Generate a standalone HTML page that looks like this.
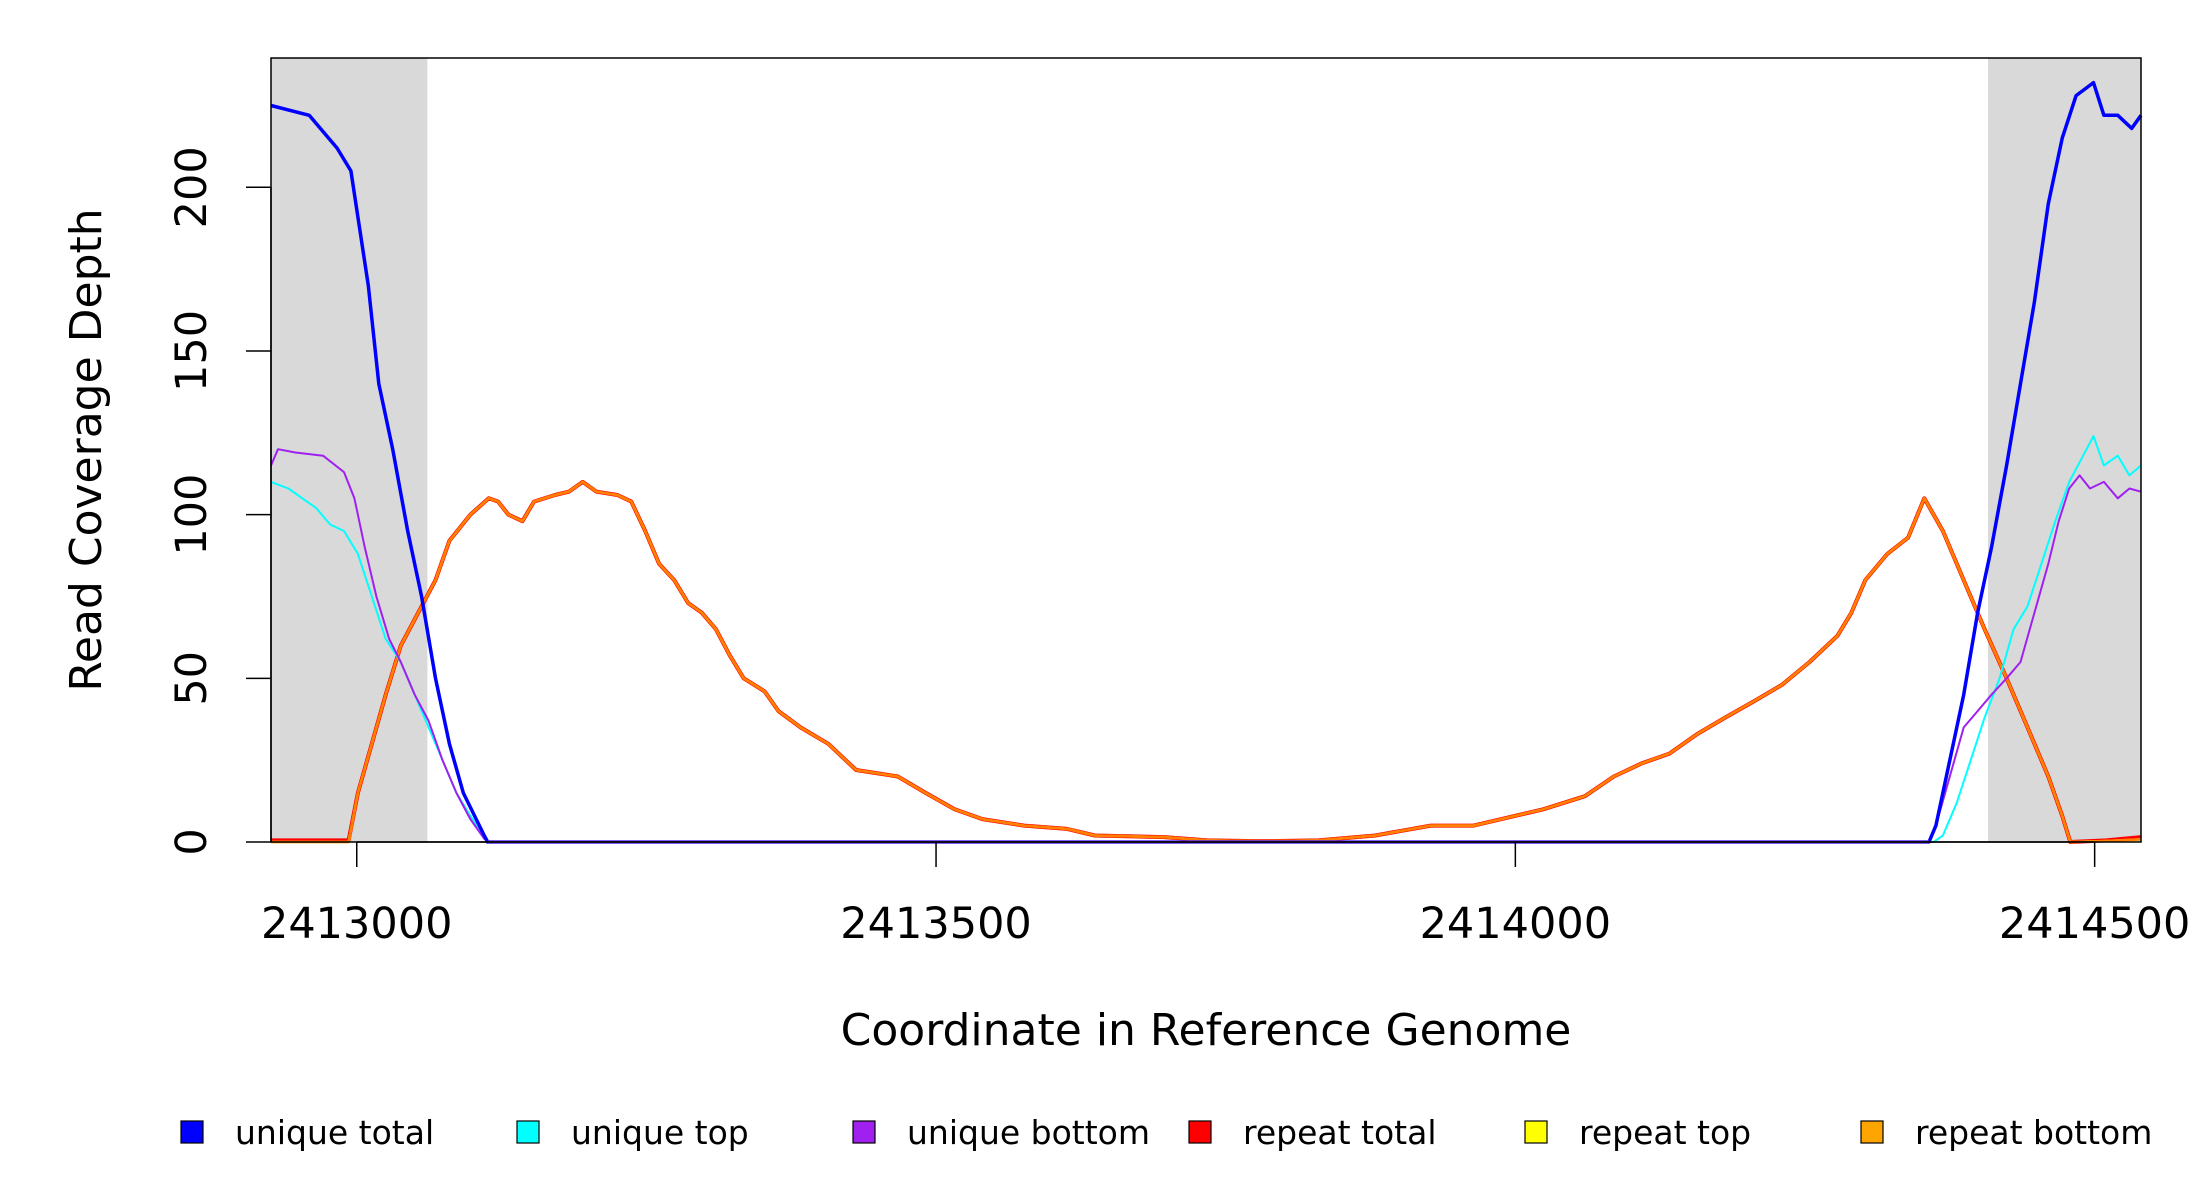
<!DOCTYPE html>
<html><head><meta charset="utf-8">
<style>
html,body{margin:0;padding:0;background:#fff;}
svg{display:block;font-family:"DejaVu Sans","Liberation Sans",sans-serif;}
</style></head>
<body>
<svg id="chart" width="2200" height="1200" viewBox="0 0 2200 1200" xmlns="http://www.w3.org/2000/svg">
<g id="bg"></g>
<g id="series"></g>
<g id="axes"></g>
<g id="legend"></g>
</svg>
<script>
const xTicks = [2413000, 2413500, 2414000, 2414500];
const yTicks = [0, 50, 100, 150, 200];
const shadedRegions = [[2412926, 2413061], [2414408, 2414540]];

const uniqueTotalX = [2412926,2412959,2412983,2412995,2413010,2413019,2413031,2413044,2413056,2413068,2413080,2413092,2413110,2413113,2414357,2414363,2414375,2414387,2414399,2414411,2414424,2414436,2414448,2414460,2414472,2414484,2414499,2414508,2414520,2414532,2414540];
const uniqueTotalY = [225,222,212,205,170,140,120,95,75,50,30,15,2,0,0,5,25,45,70,90,115,140,165,195,215,228,232,222,222,218,222];

const uniqueTopX = [2412926,2412941,2412953,2412965,2412977,2412989,2413001,2413013,2413025,2413038,2413050,2413062,2413074,2413086,2413098,2413110,2413114,2414361,2414369,2414381,2414393,2414405,2414418,2414430,2414442,2414454,2414466,2414478,2414490,2414499,2414508,2414520,2414530,2414540];
const uniqueTopY = [110,108,105,102,97,95,88,75,62,55,45,35,25,15,8,2,0,0,2,12,25,38,50,65,72,85,98,110,118,124,115,118,112,115];

const uniqueBottomX = [2412926,2412932,2412947,2412971,2412989,2412998,2413007,2413017,2413028,2413038,2413050,2413062,2413074,2413086,2413098,2413110,2413114,2414357,2414363,2414375,2414387,2414399,2414411,2414424,2414436,2414448,2414460,2414469,2414478,2414487,2414496,2414508,2414520,2414530,2414540];
const uniqueBottomY = [115,120,119,118,113,105,90,75,62,55,45,37,25,15,7,1,0,0,5,20,35,40,45,50,55,70,85,98,108,112,108,110,105,108,107];

const repeatX = [2412926,2412993,2413001,2413013,2413025,2413038,2413056,2413068,2413080,2413098,2413114,2413122,2413131,2413143,2413153,2413171,2413183,2413195,2413207,2413225,2413237,2413249,2413261,2413274,2413286,2413298,2413310,2413322,2413334,2413352,2413364,2413383,2413407,2413431,2413467,2413491,2413516,2413540,2413576,2413613,2413637,2413697,2413734,2413782,2413830,2413879,2413927,2413964,2414000,2414024,2414060,2414085,2414109,2414133,2414157,2414181,2414206,2414230,2414254,2414278,2414290,2414302,2414321,2414339,2414353,2414369,2414387,2414405,2414424,2414442,2414460,2414472,2414479,2414510,2414540];
const repeatTotalY = [0.5,0.5,15,30,45,60,72,80,92,100,105,104,100,98,104,106,107,110,107,106,104,95,85,80,73,70,65,57,50,46,40,35,30,22,20,15,10,7,5,4,2,1.5,0.5,0.2,0.5,2,5,5,8,10,14,20,24,27,33,38,43,48,55,63,70,80,88,93,105,95,80,65,50,35,20,8,0,0.5,1.5];
const repeatTopY = [0,0,15,30,45,60,72,80,92,100,105,104,100,98,104,106,107,110,107,106,104,95,85,80,73,70,65,57,50,46,40,35,30,22,20,15,10,7,5,4,2,1.5,0.5,0.2,0.5,2,5,5,8,10,14,20,24,27,33,38,43,48,55,63,70,80,88,93,105,95,80,65,50,35,20,8,0,0.3,0.8];
const repeatBottomY = [0,0,15,30,45,60,72,80,92,100,105,104,100,98,104,106,107,110,107,106,104,95,85,80,73,70,65,57,50,46,40,35,30,22,20,15,10,7,5,4,2,1.5,0.5,0.2,0.5,2,5,5,8,10,14,20,24,27,33,38,43,48,55,63,70,80,88,93,105,95,80,65,50,35,20,8,0,0.3,0.8];

const legendLabels = ["unique total","unique top","unique bottom","repeat total","repeat top","repeat bottom"];
const legendColors = ["#0000ff","#00ffff","#a020f0","#ff0000","#ffff00","#ffa500"];

const NS = "http://www.w3.org/2000/svg";
const L = 271, R = 2141, T = 58, B = 842;
const XMIN = 2412926, XMAX = 2414540, YMAX = 239.5;
function sx(v){ return L + (v - XMIN) / (XMAX - XMIN) * (R - L); }
function sy(v){ return B - v / YMAX * (B - T); }
function mk(tag, attrs, parent){
  const e = document.createElementNS(NS, tag);
  for (const k in attrs) e.setAttribute(k, attrs[k]);
  parent.appendChild(e);
  return e;
}
const bg = document.getElementById('bg');
const seriesG = document.getElementById('series');
const axes = document.getElementById('axes');
const legend = document.getElementById('legend');

shadedRegions.forEach((r, i) => {
  const rect = mk('rect', {x: sx(r[0]), y: T, width: sx(r[1]) - sx(r[0]), height: B - T, fill: '#d9d9d9'}, bg);
  
  
});

function drawSeries(xs, ys, color, width, name){
  let d = '';
  for (let i = 0; i < xs.length; i++){
    d += (i ? 'L' : 'M') + sx(xs[i]).toFixed(1) + ' ' + sy(ys[i]).toFixed(1);
  }
  const p = mk('path', {d: d, fill: 'none', stroke: color, 'stroke-width': width, 'stroke-linejoin': 'round'}, seriesG);
  
  
}
drawSeries(repeatX, repeatTotalY, '#ff0000', 4, 'repeat-total-line');
drawSeries(repeatX, repeatTopY, '#ffff00', 2.5, 'repeat-top-line');
drawSeries(repeatX, repeatBottomY, '#ff7f00', 2.5, 'repeat-bottom-line');
drawSeries(uniqueTopX, uniqueTopY, '#00ffff', 2, 'unique-top-line');
drawSeries(uniqueBottomX, uniqueBottomY, '#a020f0', 2, 'unique-bottom-line');
drawSeries(uniqueTotalX, uniqueTotalY, '#0000ff', 3.5, 'unique-total-line');
const zl = mk('line', {x1: sx(uniqueTotalX[13]), x2: sx(uniqueTotalX[14]), y1: B, y2: B, stroke: '#7a3cf0', 'stroke-width': 3}, seriesG);



const box = mk('rect', {x: L, y: T, width: R - L, height: B - T, fill: 'none', stroke: '#000', 'stroke-width': 1.5}, axes);



const yAxis = mk('line', {x1: L, x2: L, y1: sy(0), y2: sy(200), stroke: '#000', 'stroke-width': 1.5}, axes);


yTicks.forEach(v => {
  const t = mk('line', {x1: L - 25, x2: L, y1: sy(v), y2: sy(v), stroke: '#000', 'stroke-width': 1.5}, axes);
  
  
  const tx = mk('text', {x: 0, y: 0, 'font-size': 43, 'text-anchor': 'middle', transform: 'translate(206,' + sy(v) + ') rotate(-90)'}, axes);
  tx.textContent = v;
  
  
});
const xAxis = mk('line', {x1: sx(xTicks[0]), x2: sx(xTicks[xTicks.length - 1]), y1: B, y2: B, stroke: '#000', 'stroke-width': 1.5}, axes);


xTicks.forEach(v => {
  const t = mk('line', {x1: sx(v), x2: sx(v), y1: B, y2: B + 25, stroke: '#000', 'stroke-width': 1.5}, axes);
  
  
  const tx = mk('text', {x: sx(v), y: 938, 'font-size': 43, 'text-anchor': 'middle'}, axes);
  tx.textContent = v;
  
  
});
const xt = mk('text', {x: 1206, y: 1045, 'font-size': 44, 'text-anchor': 'middle'}, axes);
xt.textContent = 'Coordinate in Reference Genome';


const yt = mk('text', {x: 0, y: 0, 'font-size': 44, 'text-anchor': 'middle', transform: 'translate(101,450) rotate(-90)'}, axes);
yt.textContent = 'Read Coverage Depth';



legendLabels.forEach((lab, i) => {
  const cx = 192 + i * 336;
  const g = mk('g', {}, legend);
  
  
  mk('rect', {x: cx - 11, y: 1121, width: 22, height: 22, fill: legendColors[i], stroke: '#000', 'stroke-width': 1.2}, g);
  const t = mk('text', {x: cx + 43, y: 1144, 'font-size': 33}, g);
  t.textContent = lab;
});
</script>
</body></html>
